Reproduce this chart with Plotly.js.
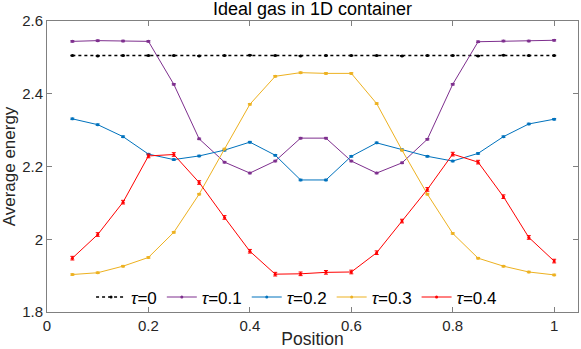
<!DOCTYPE html>
<html>
<head>
<meta charset="utf-8">
<script src="https://cdn.plot.ly/plotly-3.0.1.min.js"></script>
<style>html,body{margin:0;padding:0;background:#fff}#chart{width:581px;height:349px}</style>
</head>
<body>
<div id="chart"></div>
<script>
const positions = [0.05,0.1,0.15,0.2,0.25,0.3,0.35,0.4,0.45,0.5,0.55,0.6,0.65,0.7,0.75,0.8,0.85,0.9,0.95,1.0];
const tau0 = [2.505,2.504,2.505,2.505,2.505,2.504,2.505,2.506,2.505,2.504,2.505,2.505,2.505,2.504,2.505,2.505,2.504,2.506,2.505,2.505];
const tau01 = [2.544,2.546,2.545,2.544,2.426,2.276,2.212,2.182,2.215,2.278,2.278,2.215,2.182,2.210,2.275,2.426,2.543,2.545,2.545,2.547];
const tau02 = [2.331,2.315,2.282,2.234,2.219,2.229,2.245,2.267,2.231,2.163,2.163,2.228,2.265,2.246,2.228,2.215,2.236,2.282,2.317,2.330];
const tau03 = [1.903,1.908,1.926,1.950,2.019,2.124,2.248,2.371,2.448,2.458,2.456,2.456,2.373,2.245,2.124,2.016,1.948,1.926,1.910,1.902];
const tau04 = [1.948,2.013,2.102,2.229,2.233,2.156,2.060,1.967,1.904,1.905,1.909,1.910,1.963,2.050,2.137,2.234,2.212,2.117,2.005,1.940];
const err0 = 0.001, err01 = 0.002, err02 = 0.002, err03 = 0.002, err04 = 0.005;
const seriesNames = ['<i>τ</i>=0','<i>τ</i>=0.1','<i>τ</i>=0.2','<i>τ</i>=0.3','<i>τ</i>=0.4'];
const xTicks = [0,0.2,0.4,0.6,0.8,1];
const yTicks = [1.8,2,2.2,2.4,2.6];

const FONT = 'Liberation Sans, Arial, sans-serif';
const colors = ['#000000','#7E2F8E','#0072BD','#EDB120','#FF0000'];
const dashes = ['dot','solid','solid','solid','solid'];
const ys = [tau0,tau01,tau02,tau03,tau04];
const errs = [err0,err01,err02,err03,err04];

const traces = ys.map((y,i)=>({
  x: positions, y: y, name: seriesNames[i], type:'scatter', mode:'lines+markers',
  line:{color:colors[i], width: i===0?1.5:1, dash:dashes[i]},
  marker:{color:colors[i], size:3},
  error_y:{type:'constant', value:errs[i], color:colors[i], thickness:1, width:2}
}));

const axisCommon = {
  showgrid:false, zeroline:false, showline:true, mirror:'ticks',
  linecolor:'#808080', linewidth:1, ticks:'inside', ticklen:5, tickcolor:'#808080',
  tickfont:{family:FONT, size:15, color:'#262626'}
};

const layout = {
  width:581, height:349,
  margin:{l:47, r:3, t:21, b:37},
  paper_bgcolor:'#fff', plot_bgcolor:'#fff',
  title:{text:'Ideal gas in 1D container', font:{family:FONT, size:18, color:'#000'}, xref:'paper', x:0.5, xanchor:'center', y:1, yanchor:'top', pad:{t:2}},
  xaxis:Object.assign({}, axisCommon, {range:[0,1.047], tickvals:xTicks, ticktext:xTicks.map(String),
    title:{text:'Position', font:{family:FONT, size:17.5, color:'#262626'}, standoff:0}}),
  yaxis:Object.assign({}, axisCommon, {range:[1.8,2.6], tickvals:yTicks, ticktext:['1.8','2','2.2','2.4','2.6'],
    title:{text:'Average energy', font:{family:FONT, size:17, color:'#262626'}, standoff:3}}),
  showlegend:true,
  legend:{orientation:'h', x:0.47, xanchor:'center', y:0.05, yanchor:'middle', bgcolor:'rgba(0,0,0,0)',
    font:{family:FONT, size:17, color:'#000'}, itemwidth:30, tracegroupgap:0}
};

Plotly.newPlot('chart', traces, layout, {displayModeBar:false, staticPlot:true});
</script>
</body>
</html>
